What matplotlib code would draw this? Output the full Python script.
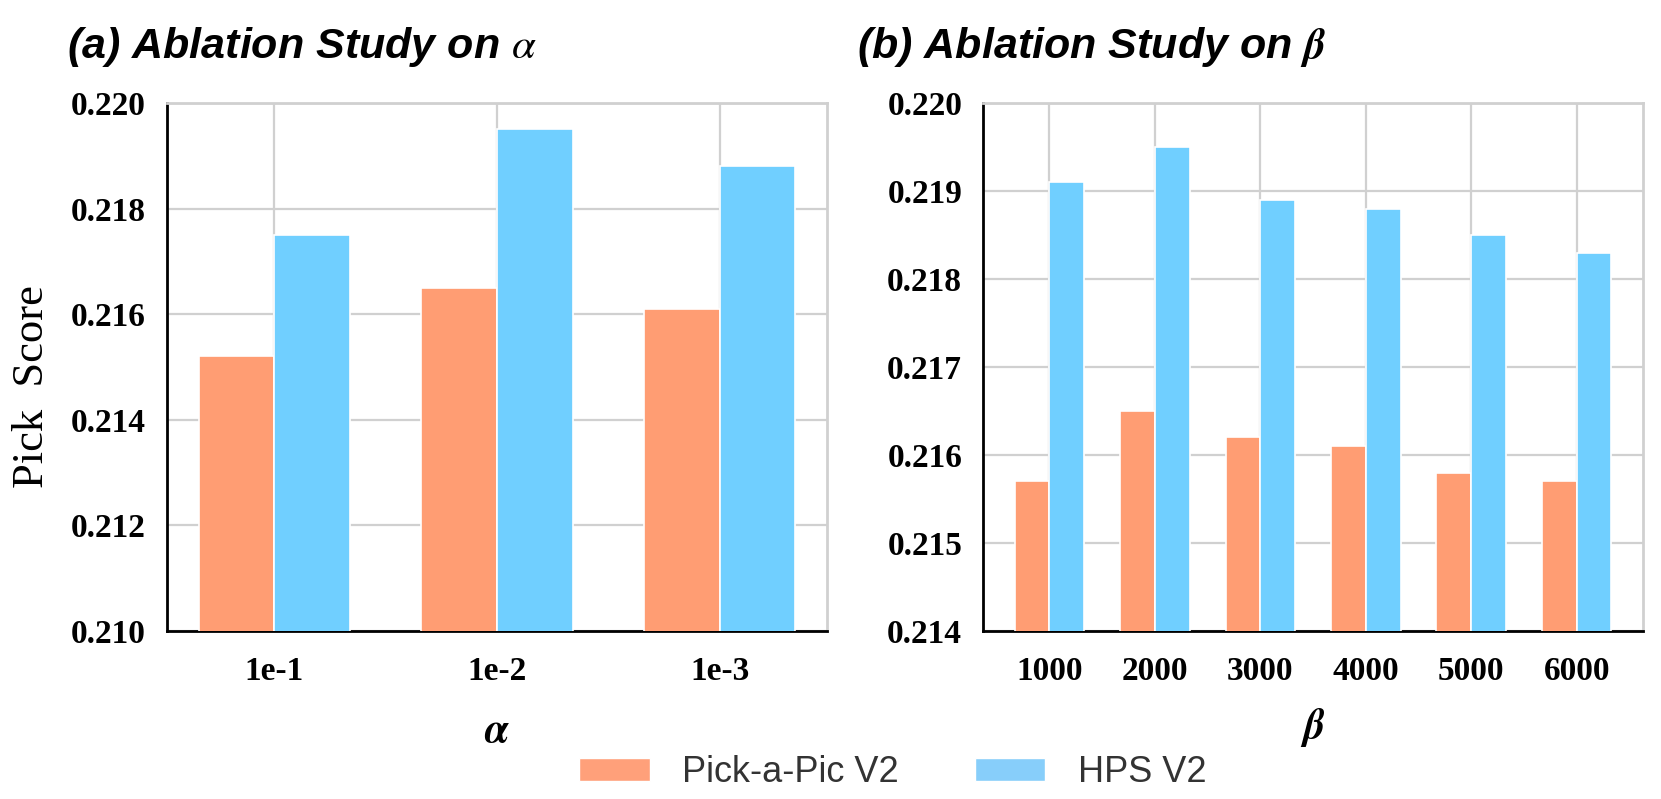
import numpy as np
import matplotlib
matplotlib.use("Agg")
import matplotlib.pyplot as plt
from matplotlib.patches import Patch

plt.rcParams["mathtext.fontset"] = "stix"

# data
ALPHA_LABELS = ["1e-1", "1e-2", "1e-3"]
ALPHA_PICK = [0.2152, 0.2165, 0.2161]
ALPHA_HPS = [0.2175, 0.2195, 0.2188]

BETA_LABELS = ["1000", "2000", "3000", "4000", "5000", "6000"]
BETA_PICK = [0.2157, 0.2165, 0.2162, 0.2161, 0.2158, 0.2157]
BETA_HPS = [0.2191, 0.2195, 0.2189, 0.2188, 0.2185, 0.2183]

SERIES = ["Pick-a-Pic V2", "HPS V2"]

ORANGE = "#FF9D73"
BLUE = "#70CFFF"
GRID = "#d0d0d0"

TICK_FONT = dict(family="Liberation Serif", weight="bold", size=24)
TITLE_FONT = dict(family="Liberation Sans", weight="bold", style="italic", size=31)


def draw_panel(ax, labels, pick, hps, width, xlim, ylim, yticks, fmt):
    x = np.arange(len(labels))
    ax.bar(x - width / 2, pick, width, color=ORANGE, edgecolor="white",
           linewidth=1.2, zorder=3)
    ax.bar(x + width / 2, hps, width, color=BLUE, edgecolor="white",
           linewidth=1.2, zorder=3)

    ax.set_xlim(*xlim)
    ax.set_ylim(*ylim)
    ax.set_xticks(x)
    ax.set_xticklabels(labels, fontdict=TICK_FONT)
    ax.set_yticks(yticks)
    ax.set_yticklabels([fmt.format(v) for v in yticks], fontdict=TICK_FONT)
    ax.tick_params(axis="both", length=0)
    ax.tick_params(axis="y", pad=15)
    ax.tick_params(axis="x", pad=18)

    ax.grid(True, color=GRID, linewidth=1.6, zorder=0)
    ax.set_axisbelow(True)

    for side in ["top", "right"]:
        ax.spines[side].set_color(GRID)
        ax.spines[side].set_linewidth(2)
    for side in ["left", "bottom"]:
        ax.spines[side].set_color("black")
        ax.spines[side].set_linewidth(2)


fig = plt.figure(figsize=(16.61, 7.99), dpi=100)

ax1 = fig.add_axes([0.1005, 0.2103, 0.3974, 0.6608])
ax2 = fig.add_axes([0.5918, 0.2103, 0.3974, 0.6608])

draw_panel(ax1, ALPHA_LABELS, ALPHA_PICK, ALPHA_HPS, 0.34,
           (-0.482, 2.482), (0.210, 0.220),
           np.arange(0.210, 0.2201, 0.002), "{:.3f}")
draw_panel(ax2, BETA_LABELS, BETA_PICK, BETA_HPS, 0.33,
           (-0.63, 5.63), (0.214, 0.220),
           np.arange(0.214, 0.2201, 0.001), "{:.3f}")

ax1.set_ylabel("Pick  Score", family="Liberation Serif", size=32, labelpad=14)
ax1.yaxis.label.set_y(0.462)
ax1.set_xlabel(r"$\boldsymbol{\alpha}$", size=30, labelpad=16)
ax2.set_xlabel(r"$\boldsymbol{\beta}$", size=30, labelpad=14)

fig.text(67 / 1661, 1 - 47 / 799, r"(a) Ablation Study on $\alpha$",
         ha="left", va="center", **TITLE_FONT)
fig.text(857 / 1661, 1 - 47 / 799, r"(b) Ablation Study on $\boldsymbol{\beta}$",
         ha="left", va="center", **TITLE_FONT)

handles = [Patch(facecolor="#FFA07A", edgecolor="white"),
           Patch(facecolor="#87CEFA", edgecolor="white")]
fig.legend(handles, SERIES, loc="center", bbox_to_anchor=(0.5376, 0.033),
           ncol=2, frameon=False, handlelength=1.95, handleheight=0.6,
           handletextpad=0.9, columnspacing=2.1,
           prop=dict(family="Liberation Sans", size=26), labelcolor="#333333")

fig.savefig("out.png", dpi=100)
